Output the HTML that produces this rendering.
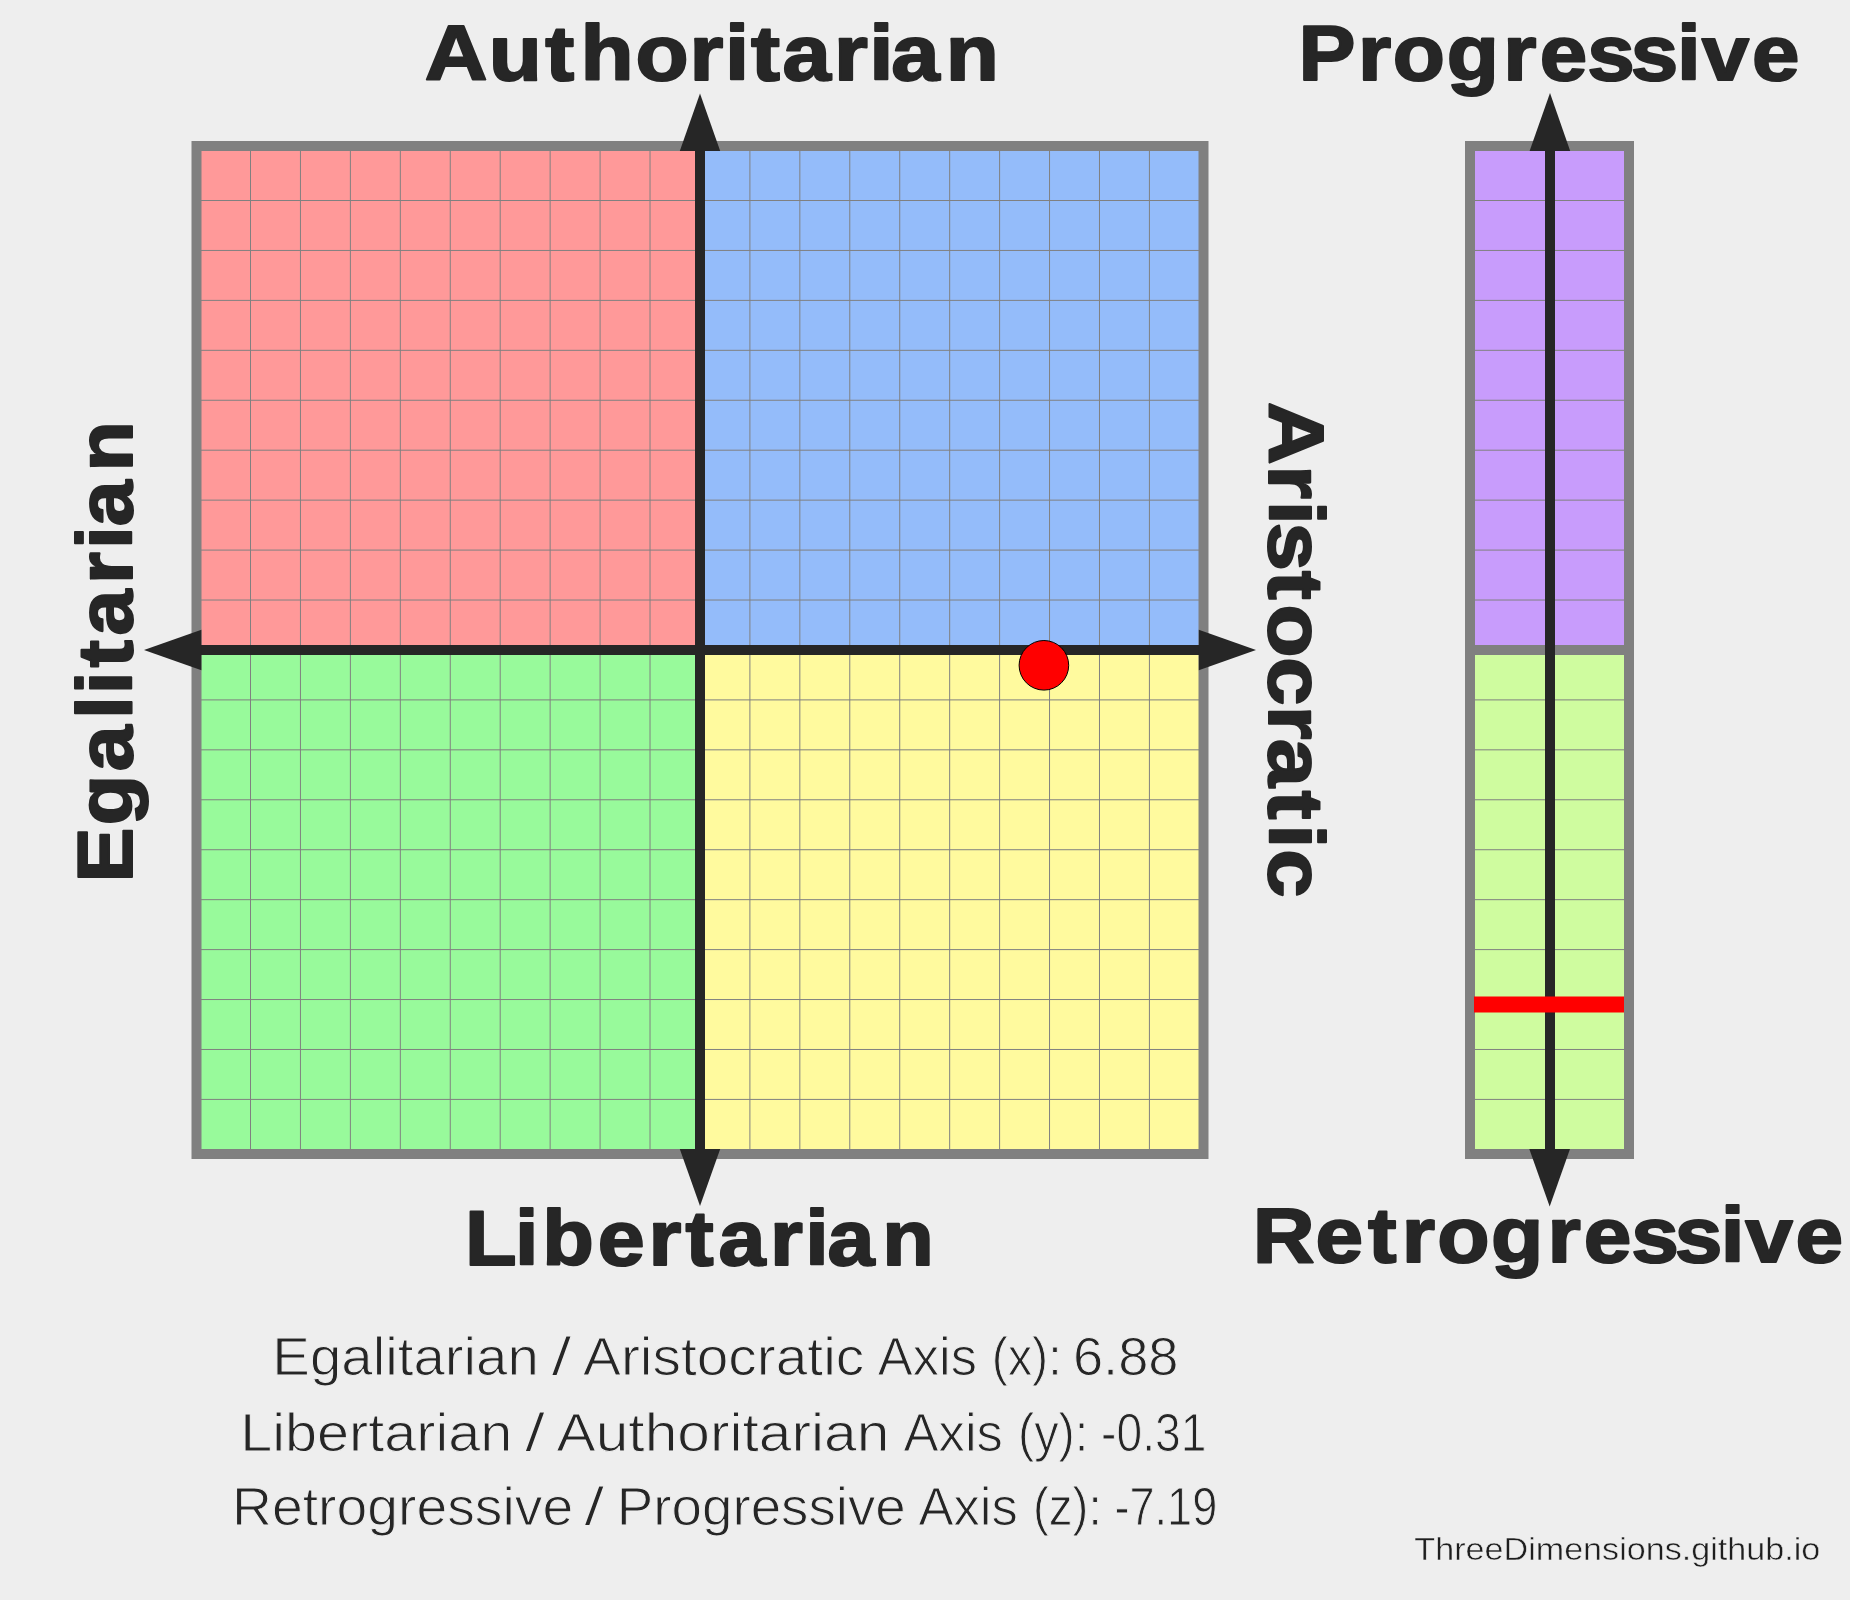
<!DOCTYPE html>
<html><head><meta charset="utf-8"><title>ThreeDimensions Results</title>
<style>
html,body{margin:0;padding:0;background:#eeeeee;width:1850px;height:1600px;overflow:hidden}
svg{display:block}
.b{font-family:"Liberation Sans",Arial,sans-serif;font-weight:700;fill:#262626}
.r{font-family:"Liberation Sans",Arial,sans-serif;font-weight:400;fill:#262626}
.f{font-family:"Liberation Sans",Arial,sans-serif;font-weight:400;fill:#1e1e1e}
</style></head>
<body>
<svg width="1850" height="1600" viewBox="0 0 1850 1600">
<rect x="0" y="0" width="1850" height="1600" fill="#eeeeee"/>
<rect x="200" y="150" width="500" height="500" fill="#ff9999"/>
<rect x="700" y="150" width="500" height="500" fill="#94bcfa"/>
<rect x="200" y="650" width="500" height="500" fill="#98fa9b"/>
<rect x="700" y="650" width="500" height="500" fill="#fffa9e"/>
<rect x="1475" y="150" width="150" height="500" fill="#c89cfc"/>
<rect x="1475" y="650" width="150" height="500" fill="#cffc9f"/>
<g stroke="#808080" stroke-width="1">
<line x1="250.50" y1="150" x2="250.50" y2="1150"/>
<line x1="200" y1="200.50" x2="1200" y2="200.50"/>
<line x1="300.44" y1="150" x2="300.44" y2="1150"/>
<line x1="200" y1="250.44" x2="1200" y2="250.44"/>
<line x1="350.38" y1="150" x2="350.38" y2="1150"/>
<line x1="200" y1="300.38" x2="1200" y2="300.38"/>
<line x1="400.32" y1="150" x2="400.32" y2="1150"/>
<line x1="200" y1="350.32" x2="1200" y2="350.32"/>
<line x1="450.26" y1="150" x2="450.26" y2="1150"/>
<line x1="200" y1="400.26" x2="1200" y2="400.26"/>
<line x1="500.20" y1="150" x2="500.20" y2="1150"/>
<line x1="200" y1="450.20" x2="1200" y2="450.20"/>
<line x1="550.14" y1="150" x2="550.14" y2="1150"/>
<line x1="200" y1="500.14" x2="1200" y2="500.14"/>
<line x1="600.08" y1="150" x2="600.08" y2="1150"/>
<line x1="200" y1="550.08" x2="1200" y2="550.08"/>
<line x1="650.02" y1="150" x2="650.02" y2="1150"/>
<line x1="200" y1="600.02" x2="1200" y2="600.02"/>
<line x1="699.96" y1="150" x2="699.96" y2="1150"/>
<line x1="200" y1="649.96" x2="1200" y2="649.96"/>
<line x1="749.90" y1="150" x2="749.90" y2="1150"/>
<line x1="200" y1="699.90" x2="1200" y2="699.90"/>
<line x1="799.84" y1="150" x2="799.84" y2="1150"/>
<line x1="200" y1="749.84" x2="1200" y2="749.84"/>
<line x1="849.78" y1="150" x2="849.78" y2="1150"/>
<line x1="200" y1="799.78" x2="1200" y2="799.78"/>
<line x1="899.72" y1="150" x2="899.72" y2="1150"/>
<line x1="200" y1="849.72" x2="1200" y2="849.72"/>
<line x1="949.66" y1="150" x2="949.66" y2="1150"/>
<line x1="200" y1="899.66" x2="1200" y2="899.66"/>
<line x1="999.60" y1="150" x2="999.60" y2="1150"/>
<line x1="200" y1="949.60" x2="1200" y2="949.60"/>
<line x1="1049.54" y1="150" x2="1049.54" y2="1150"/>
<line x1="200" y1="999.54" x2="1200" y2="999.54"/>
<line x1="1099.48" y1="150" x2="1099.48" y2="1150"/>
<line x1="200" y1="1049.48" x2="1200" y2="1049.48"/>
<line x1="1149.42" y1="150" x2="1149.42" y2="1150"/>
<line x1="200" y1="1099.42" x2="1200" y2="1099.42"/>
<line x1="1475" y1="200.50" x2="1625" y2="200.50"/>
<line x1="1475" y1="250.44" x2="1625" y2="250.44"/>
<line x1="1475" y1="300.38" x2="1625" y2="300.38"/>
<line x1="1475" y1="350.32" x2="1625" y2="350.32"/>
<line x1="1475" y1="400.26" x2="1625" y2="400.26"/>
<line x1="1475" y1="450.20" x2="1625" y2="450.20"/>
<line x1="1475" y1="500.14" x2="1625" y2="500.14"/>
<line x1="1475" y1="550.08" x2="1625" y2="550.08"/>
<line x1="1475" y1="600.02" x2="1625" y2="600.02"/>
<line x1="1475" y1="699.90" x2="1625" y2="699.90"/>
<line x1="1475" y1="749.84" x2="1625" y2="749.84"/>
<line x1="1475" y1="799.78" x2="1625" y2="799.78"/>
<line x1="1475" y1="849.72" x2="1625" y2="849.72"/>
<line x1="1475" y1="899.66" x2="1625" y2="899.66"/>
<line x1="1475" y1="949.60" x2="1625" y2="949.60"/>
<line x1="1475" y1="999.54" x2="1625" y2="999.54"/>
<line x1="1475" y1="1049.48" x2="1625" y2="1049.48"/>
<line x1="1475" y1="1099.42" x2="1625" y2="1099.42"/>
</g>
<rect x="196.5" y="146" width="1007" height="1008" fill="none" stroke="#808080" stroke-width="10"/>
<rect x="1470" y="146" width="159" height="1008" fill="none" stroke="#808080" stroke-width="10"/>
<rect x="1475" y="645" width="150" height="10" fill="#808080"/>
<g fill="#262626">
<rect x="695" y="150" width="10" height="1000"/>
<rect x="200" y="645" width="1000" height="10"/>
<rect x="1545" y="150" width="10" height="1000"/>
<polygon points="700,93.5 679.8,151 720.2,151"/>
<polygon points="700,1206 679.8,1149 720.2,1149"/>
<polygon points="144,650 201.4,629.8 201.4,670.2"/>
<polygon points="1256,650 1198.8,629.8 1198.8,670.2"/>
<polygon points="1550,93 1529.6,151 1570.2,151"/>
<polygon points="1549.7,1206.5 1529.3,1149 1570,1149"/>
</g>
<rect x="1474" y="996.5" width="150" height="16" fill="#ff0000"/>
<circle cx="1043.9" cy="665.3" r="24.8" fill="#ff0000" stroke="#000" stroke-width="1"/>
<text class="b" font-size="78" transform="translate(0 79.75) scale(1.1153 1)" x="380.88 438.14 488.85 520.55 569.85 618.27 649.95 673.47 701.55 747.73 779.41 799.06 848.01" y="0" stroke="#262626" stroke-width="2" stroke-linejoin="round">Authoritarian</text>
<text class="b" font-size="78" transform="translate(0 79.9) scale(1.0946 1)" x="1186.37 1240.59 1272.32 1321.64 1373.29 1406.61 1449.98 1489.86 1532.02 1554.58 1600.61" y="0" stroke="#262626" stroke-width="2" stroke-linejoin="round">Progressive</text>
<text class="b" font-size="78" transform="translate(0 1264.75) scale(1.0821 1)" x="429.72 475.96 501.08 552.38 599.25 633.58 664.05 711.57 744.07 764.79 815.38" y="0" stroke="#262626" stroke-width="2" stroke-linejoin="round">Libertarian</text>
<text class="b" font-size="78" transform="translate(0 1261.9) scale(1.0978 1)" x="1141.21 1198.30 1246.15 1276.96 1309.22 1358.26 1409.65 1442.74 1485.86 1525.50 1567.48 1589.83 1635.60" y="0" stroke="#262626" stroke-width="2" stroke-linejoin="round">Retrogressive</text>
<text class="b" font-size="78" transform="translate(131.8 876.6) rotate(-90) scale(1.0564 1)" x="-5.52 48.62 99.68 149.26 172.67 198.02 228.32 276.87 310.03 331.56 383.44" y="0" stroke="#262626" stroke-width="2" stroke-linejoin="round">Egalitarian</text>
<text class="b" font-size="78" transform="translate(1268.7 400.9) rotate(90) scale(1.1145 1)" x="1.06 57.79 89.58 109.08 152.38 182.79 229.98 273.46 303.10 349.58 379.97 402.30" y="0" stroke="#262626" stroke-width="2" stroke-linejoin="round">Aristocratic</text>
<text class="r" font-size="54" x="272.39" y="1374.9" textLength="266.48" lengthAdjust="spacingAndGlyphs" stroke="#eeeeee" stroke-width="1" stroke-linejoin="round">Egalitarian</text>
<text class="r" font-size="54" x="551.61" y="1374.9" textLength="19.85" lengthAdjust="spacingAndGlyphs" stroke="#eeeeee" stroke-width="1" stroke-linejoin="round">/</text>
<text class="r" font-size="54" x="582.97" y="1374.9" textLength="281.24" lengthAdjust="spacingAndGlyphs" stroke="#eeeeee" stroke-width="1" stroke-linejoin="round">Aristocratic</text>
<text class="r" font-size="54" x="877.84" y="1374.9" textLength="99.00" lengthAdjust="spacingAndGlyphs" stroke="#eeeeee" stroke-width="1" stroke-linejoin="round">Axis</text>
<text class="r" font-size="54" x="991.87" y="1374.9" textLength="69.77" lengthAdjust="spacingAndGlyphs" stroke="#eeeeee" stroke-width="1" stroke-linejoin="round">(x):</text>
<text class="r" font-size="54" x="1072.89" y="1374.9" textLength="105.67" lengthAdjust="spacingAndGlyphs" stroke="#eeeeee" stroke-width="1" stroke-linejoin="round">6.88</text>
<text class="r" font-size="54" x="240.19" y="1450.7" textLength="272.19" lengthAdjust="spacingAndGlyphs" stroke="#eeeeee" stroke-width="1" stroke-linejoin="round">Libertarian</text>
<text class="r" font-size="54" x="525.12" y="1450.7" textLength="19.93" lengthAdjust="spacingAndGlyphs" stroke="#eeeeee" stroke-width="1" stroke-linejoin="round">/</text>
<text class="r" font-size="54" x="556.60" y="1450.7" textLength="332.71" lengthAdjust="spacingAndGlyphs" stroke="#eeeeee" stroke-width="1" stroke-linejoin="round">Authoritarian</text>
<text class="r" font-size="54" x="903.49" y="1450.7" textLength="99.39" lengthAdjust="spacingAndGlyphs" stroke="#eeeeee" stroke-width="1" stroke-linejoin="round">Axis</text>
<text class="r" font-size="54" x="1017.95" y="1450.7" textLength="70.49" lengthAdjust="spacingAndGlyphs" stroke="#eeeeee" stroke-width="1" stroke-linejoin="round">(y):</text>
<text class="r" font-size="54" x="1101.09" y="1450.7" textLength="105.24" lengthAdjust="spacingAndGlyphs" stroke="#eeeeee" stroke-width="1" stroke-linejoin="round">-0.31</text>
<text class="r" font-size="54" x="232.08" y="1525.1" textLength="341.05" lengthAdjust="spacingAndGlyphs" stroke="#eeeeee" stroke-width="1" stroke-linejoin="round">Retrogressive</text>
<text class="r" font-size="54" x="584.24" y="1525.1" textLength="19.93" lengthAdjust="spacingAndGlyphs" stroke="#eeeeee" stroke-width="1" stroke-linejoin="round">/</text>
<text class="r" font-size="54" x="616.88" y="1525.1" textLength="288.87" lengthAdjust="spacingAndGlyphs" stroke="#eeeeee" stroke-width="1" stroke-linejoin="round">Progressive</text>
<text class="r" font-size="54" x="918.38" y="1525.1" textLength="99.40" lengthAdjust="spacingAndGlyphs" stroke="#eeeeee" stroke-width="1" stroke-linejoin="round">Axis</text>
<text class="r" font-size="54" x="1032.94" y="1525.1" textLength="68.77" lengthAdjust="spacingAndGlyphs" stroke="#eeeeee" stroke-width="1" stroke-linejoin="round">(z):</text>
<text class="r" font-size="54" x="1114.50" y="1525.1" textLength="102.78" lengthAdjust="spacingAndGlyphs" stroke="#eeeeee" stroke-width="1" stroke-linejoin="round">-7.19</text>
<g style="filter:grayscale(1)"><text class="f" font-size="31.4" x="1414.32" y="1559.8" textLength="406.02" lengthAdjust="spacingAndGlyphs" stroke="#eeeeee" stroke-width="0.5" stroke-linejoin="round">ThreeDimensions.github.io</text></g>
</svg>
</body></html>
